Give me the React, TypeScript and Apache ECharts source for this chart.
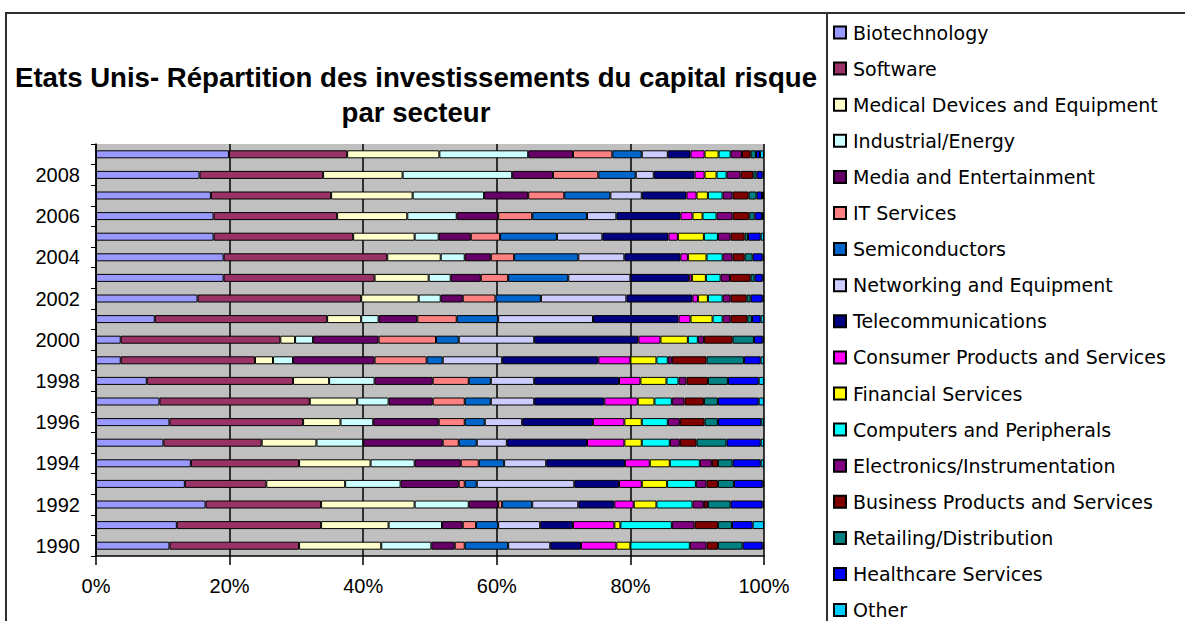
import React, { useEffect, useRef } from 'react';
import * as echarts from 'echarts';

const years = ['1990','1991','1992','1993','1994','1995','1996','1997','1998','1999','2000','2001','2002','2003','2004','2005','2006','2007','2008','2009'];

const sectors = [
  'Biotechnology',
  'Software',
  'Medical Devices and Equipment',
  'Industrial/Energy',
  'Media and Entertainment',
  'IT Services',
  'Semiconductors',
  'Networking and Equipment',
  'Telecommunications',
  'Consumer Products and Services',
  'Financial Services',
  'Computers and Peripherals',
  'Electronics/Instrumentation',
  'Business Products and Services',
  'Retailing/Distribution',
  'Healthcare Services',
  'Other',
];

const sectorColors = ['#9999FF','#993366','#FFFFCC','#CCFFFF','#660066','#FF8080','#0066CC','#CCCCFF','#000080','#FF00FF','#FFFF00','#00FFFF','#800080','#800000','#008080','#0000FF','#00CCFF'];

// Shares (%) per year, 1990 -> 2009
const biotechnology = [11.0, 12.1, 16.4, 13.3, 14.2, 10.1, 11.0, 9.5, 7.6, 3.7, 3.7, 8.8, 15.2, 19.1, 19.1, 17.6, 17.6, 17.2, 15.5, 19.9];
const software = [19.4, 21.6, 17.3, 12.2, 16.2, 14.7, 20.0, 22.5, 21.9, 20.1, 23.9, 25.8, 24.5, 22.6, 24.5, 20.9, 18.5, 18.0, 18.5, 17.7];
const medical = [12.3, 10.1, 14.0, 11.8, 10.7, 8.2, 5.6, 7.1, 5.4, 2.7, 2.2, 5.1, 8.6, 8.1, 8.0, 9.2, 10.5, 12.2, 11.9, 13.8];
const industrial = [7.5, 8.0, 8.1, 8.3, 6.6, 7.0, 4.9, 4.7, 6.8, 3.0, 2.7, 2.6, 3.3, 3.3, 3.6, 3.6, 7.4, 10.7, 16.4, 13.3];
const media = [3.5, 3.1, 4.4, 8.7, 6.9, 11.9, 9.8, 6.6, 8.7, 12.2, 9.8, 5.8, 3.3, 4.5, 3.9, 4.8, 6.2, 6.6, 6.1, 6.7];
const itServices = [1.5, 2.0, 0.6, 0.9, 2.7, 2.4, 3.9, 4.8, 5.4, 7.8, 8.6, 5.9, 4.9, 4.1, 3.5, 4.4, 5.1, 5.4, 6.8, 5.9];
const semiconductors = [6.5, 3.3, 4.5, 1.8, 3.8, 2.7, 3.0, 3.9, 3.3, 2.4, 3.4, 6.2, 6.8, 9.0, 9.6, 8.5, 8.2, 6.9, 5.6, 4.4];
const networking = [6.3, 6.3, 6.9, 14.6, 6.3, 4.5, 5.6, 6.5, 6.5, 8.9, 11.3, 14.2, 12.8, 9.3, 6.9, 6.8, 4.4, 4.7, 2.7, 3.9];
const telecom = [4.6, 4.9, 5.4, 6.7, 11.8, 12.0, 10.6, 10.5, 12.7, 14.4, 15.6, 12.8, 9.9, 8.8, 8.4, 9.9, 9.6, 6.7, 6.1, 3.4];
const consumer = [5.3, 6.2, 2.9, 3.4, 3.7, 5.6, 4.7, 5.0, 3.2, 4.8, 3.3, 1.8, 0.8, 0.4, 1.1, 1.4, 1.8, 1.5, 1.5, 2.1];
const financial = [2.1, 0.9, 3.4, 3.8, 3.0, 2.6, 2.6, 2.5, 3.9, 3.9, 4.1, 3.3, 1.5, 2.1, 2.8, 3.9, 1.5, 1.7, 1.8, 2.1];
const computers = [8.9, 7.7, 5.4, 4.3, 4.5, 4.2, 3.9, 2.6, 1.8, 1.7, 1.5, 1.5, 2.2, 2.2, 2.4, 2.1, 2.1, 2.2, 1.5, 1.8];
const electronics = [2.5, 3.4, 1.7, 1.6, 1.8, 1.5, 1.8, 1.9, 1.2, 0.6, 0.9, 1.2, 1.2, 1.4, 1.5, 1.9, 2.4, 1.5, 2.1, 1.7];
const business = [1.7, 3.5, 0.6, 1.7, 0.9, 2.5, 3.7, 2.9, 3.2, 5.2, 4.3, 2.5, 2.4, 3.1, 1.8, 2.1, 2.5, 2.4, 1.9, 1.3];
const retailing = [3.7, 2.1, 3.4, 2.4, 2.2, 4.5, 2.0, 2.1, 3.0, 5.6, 3.2, 0.7, 0.6, 0.6, 1.2, 0.5, 0.8, 1.2, 0.5, 0.8];
const healthcare = [3.0, 3.1, 4.8, 4.3, 4.2, 5.1, 6.5, 6.1, 4.6, 2.5, 1.3, 1.3, 1.8, 1.2, 1.5, 1.9, 1.1, 0.8, 0.9, 0.6];
const other = [0.2, 1.7, 0.2, 0.2, 0.5, 0.5, 0.4, 0.8, 0.8, 0.5, 0.2, 0.5, 0.2, 0.2, 0.2, 0.5, 0.3, 0.3, 0.2, 0.6];

const seriesValues = [biotechnology, software, medical, industrial, media, itServices, semiconductors, networking, telecom, consumer, financial, computers, electronics, business, retailing, healthcare, other];

export default function App() {
  const ref = useRef<HTMLDivElement>(null);
  useEffect(() => {
    if (!ref.current) return;
    const chart = echarts.init(ref.current, null, { renderer: 'svg' });
    chart.setOption({
      animation: false,
      backgroundColor: '#ffffff',
      title: {
        text: 'Etats Unis- Répartition des investissements du capital risque\npar secteur',
        left: 411,
        top: 55,
        textAlign: 'center',
        textStyle: {
          fontFamily: 'Liberation Sans',
          fontWeight: 'bold',
          fontSize: 27.6,
          lineHeight: 35,
          color: '#000',
        },
      },
      legend: {
        data: sectors,
        orient: 'vertical',
        left: 828,
        top: 18,
        height: 700,
        itemWidth: 12,
        itemHeight: 12,
        itemGap: 17.1,
        icon: 'rect',
        selectedMode: false,
        textStyle: {
          fontFamily: 'DejaVu Sans',
          fontSize: 19,
          lineHeight: 19,
          color: '#000',
          padding: [0, 0, 0, 2],
        },
      },
      grid: {
        left: 96,
        right: 421,
        top: 144,
        bottom: 65,
        show: true,
        backgroundColor: '#C0C0C0',
        borderWidth: 0,
      },
      xAxis: {
        type: 'value',
        min: 0,
        max: 100,
        interval: 20,
        axisLine: { show: true, lineStyle: { color: '#000', width: 1.5 } },
        axisTick: { show: true, length: 9, lineStyle: { color: '#000', width: 1.5 } },
        axisLabel: {
          formatter: '{value}%',
          fontFamily: 'Liberation Sans',
          fontSize: 20,
          color: '#000',
          margin: 20,
        },
        splitLine: { show: true, lineStyle: { color: '#000', width: 1.5 } },
      },
      yAxis: {
        type: 'category',
        data: years,
        axisLine: { show: true, lineStyle: { color: '#000', width: 1.5 } },
        axisTick: { show: true, interval: 0, length: 5, lineStyle: { color: '#000' } },
        axisLabel: {
          interval: 1,
          fontFamily: 'Liberation Sans',
          fontSize: 20,
          color: '#000',
          margin: 16,
        },
      },
      graphic: [
        {
          type: 'rect',
          shape: { x: 6, y: 13, width: 1300, height: 700 },
          style: { fill: 'none', stroke: '#303030', lineWidth: 2 },
          silent: true,
        },
        {
          type: 'line',
          shape: { x1: 827, y1: 13, x2: 827, y2: 640 },
          style: { stroke: '#303030', lineWidth: 2 },
          silent: true,
        },
      ],
      series: sectors.map((name, i) => ({
        name,
        type: 'bar',
        stack: 'total',
        barWidth: 8,
        data: seriesValues[i],
        itemStyle: { color: sectorColors[i], borderColor: '#000', borderWidth: 1 },
        emphasis: { disabled: true },
      })),
    });
    return () => chart.dispose();
  }, []);
  return (
    <div
      ref={ref}
      style={{ position: 'fixed', left: 0, top: 0, width: 1185, height: 621, background: '#fff' }}
    />
  );
}
